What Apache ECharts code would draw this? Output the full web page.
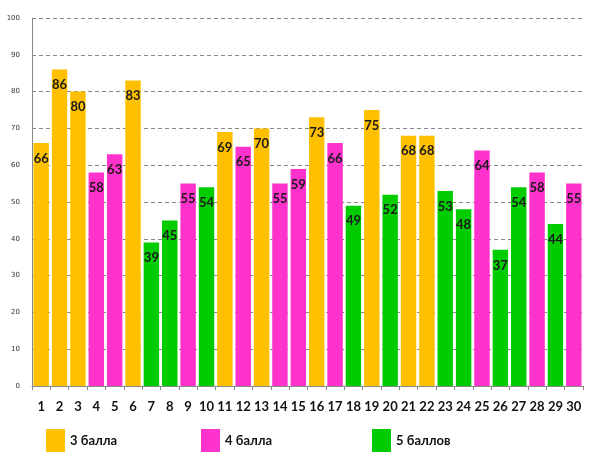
<!DOCTYPE html>
<html>
<head>
<meta charset="utf-8">
<script src="https://cdn.jsdelivr.net/npm/echarts@6/dist/echarts.min.js"></script>
<style>
  html, body { margin: 0; padding: 0; background: #fff; }
  #chart { width: 595px; height: 467px; }
</style>
</head>
<body>
<div id="chart"></div>
<script>
// номера заданий и баллы
var categories = ['1','2','3','4','5','6','7','8','9','10','11','12','13','14','15','16','17','18','19','20','21','22','23','24','25','26','27','28','29','30'];
var values = [66, 86, 80, 58, 63, 83, 39, 45, 55, 54, 69, 65, 70, 55, 59, 73, 66, 49, 75, 52, 68, 68, 53, 48, 64, 37, 54, 58, 44, 55];
var grades = [3, 3, 3, 4, 4, 3, 5, 5, 4, 5, 3, 4, 3, 4, 4, 3, 4, 5, 3, 5, 3, 3, 5, 5, 4, 5, 5, 4, 5, 4];
var groupNames = ['3 балла', '4 балла', '5 баллов'];
var groupGrades = [3, 4, 5];
var groupColors = ['#FFC000', '#FF33CC', '#00CC00'];
var legendLeft = [46, 201, 372];

function pick(g) {
  return values.map(function (v, i) { return grades[i] === g ? v : '-'; });
}

var series = groupGrades.map(function (g, k) {
  return {
    name: groupNames[k],
    type: 'bar',
    stack: 'all',
    barCategoryGap: '16%',
    data: pick(g),
    itemStyle: { color: groupColors[k] },
    label: {
      show: true,
      position: 'insideTop',
      distance: 9,
      color: '#1a1a1a',
      fontFamily: 'Lato',
      fontWeight: 'bold',
      fontSize: 13
    }
  };
});

var legends = groupNames.map(function (n, k) {
  return {
    data: [n],
    left: legendLeft[k],
    top: 429,
    padding: 0,
    icon: 'rect',
    itemWidth: 19,
    itemHeight: 23,
    itemGap: 8,
    selectedMode: false,
    textStyle: { fontFamily: 'Lato', fontWeight: 'bold', fontSize: 13, color: '#111' }
  };
});

var chart = echarts.init(document.getElementById('chart'));
chart.setOption({
  animation: false,
  legend: legends,
  grid: { left: 32, right: 12, top: 18, bottom: 81, containLabel: false },
  xAxis: {
    type: 'category',
    data: categories,
    axisLine: { lineStyle: { color: '#888' } },
    axisTick: { show: true, lineStyle: { color: '#888' }, length: 4 },
    axisLabel: { margin: 14, color: '#111', fontFamily: 'Lato', fontWeight: 'bold', fontSize: 13, interval: 0 }
  },
  yAxis: {
    type: 'value',
    min: 0,
    max: 100,
    interval: 10,
    axisLine: { show: true, lineStyle: { color: '#888' } },
    axisTick: { show: false },
    axisLabel: { margin: 12, color: '#333', fontSize: 7, fontFamily: 'DejaVu Sans' },
    splitLine: { lineStyle: { color: '#888', type: [4, 3] } }
  },
  series: series
});
</script>
</body>
</html>
